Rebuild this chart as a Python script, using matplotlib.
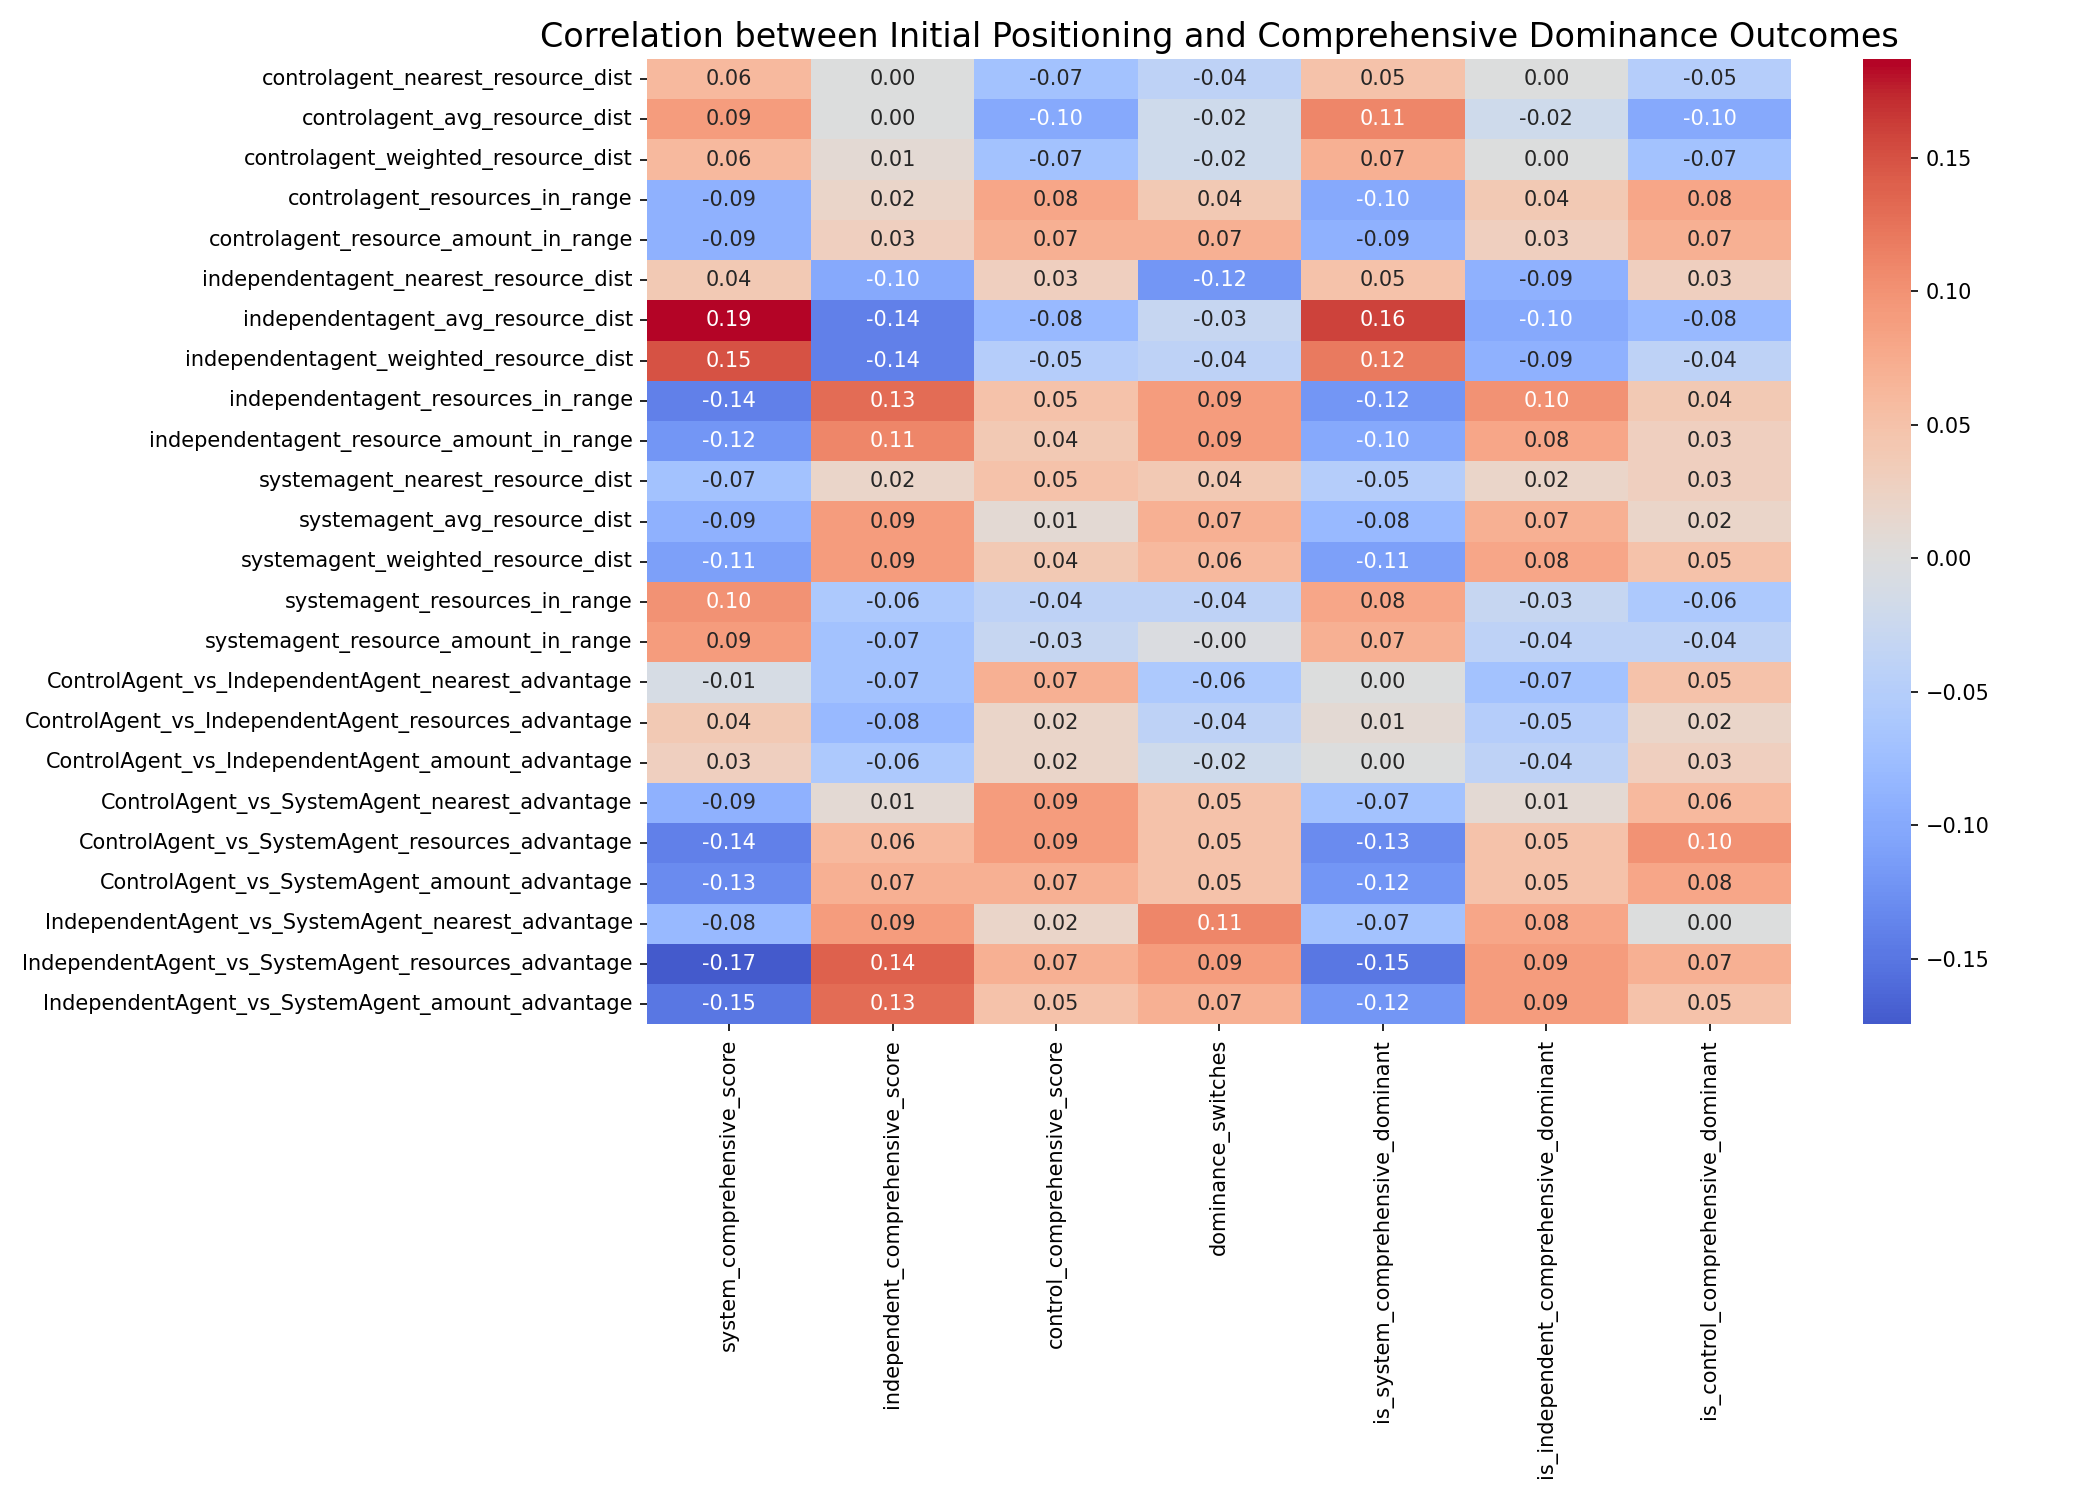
import numpy as np
import pandas as pd
import seaborn as sns
import matplotlib
from matplotlib import pyplot as plt

matplotlib.use("agg")

features = [
    "controlagent_nearest_resource_dist",
    "controlagent_avg_resource_dist",
    "controlagent_weighted_resource_dist",
    "controlagent_resources_in_range",
    "controlagent_resource_amount_in_range",
    "independentagent_nearest_resource_dist",
    "independentagent_avg_resource_dist",
    "independentagent_weighted_resource_dist",
    "independentagent_resources_in_range",
    "independentagent_resource_amount_in_range",
    "systemagent_nearest_resource_dist",
    "systemagent_avg_resource_dist",
    "systemagent_weighted_resource_dist",
    "systemagent_resources_in_range",
    "systemagent_resource_amount_in_range",
    "ControlAgent_vs_IndependentAgent_nearest_advantage",
    "ControlAgent_vs_IndependentAgent_resources_advantage",
    "ControlAgent_vs_IndependentAgent_amount_advantage",
    "ControlAgent_vs_SystemAgent_nearest_advantage",
    "ControlAgent_vs_SystemAgent_resources_advantage",
    "ControlAgent_vs_SystemAgent_amount_advantage",
    "IndependentAgent_vs_SystemAgent_nearest_advantage",
    "IndependentAgent_vs_SystemAgent_resources_advantage",
    "IndependentAgent_vs_SystemAgent_amount_advantage",
]

outcomes = [
    "system_comprehensive_score",
    "independent_comprehensive_score",
    "control_comprehensive_score",
    "dominance_switches",
    "is_system_comprehensive_dominant",
    "is_independent_comprehensive_dominant",
    "is_control_comprehensive_dominant",
]

system_score = [0.06, 0.09, 0.06, -0.09, -0.09, 0.04, 0.187, 0.15, -0.14, -0.12, -0.07, -0.09,
                -0.11, 0.10, 0.09, -0.01, 0.04, 0.03, -0.09, -0.14, -0.13, -0.08, -0.1745, -0.15]
independent_score = [0.00, 0.00, 0.01, 0.02, 0.03, -0.10, -0.14, -0.14, 0.13, 0.11, 0.02, 0.09,
                     0.09, -0.06, -0.07, -0.07, -0.08, -0.06, 0.01, 0.06, 0.07, 0.09, 0.14, 0.13]
control_score = [-0.07, -0.10, -0.07, 0.08, 0.07, 0.03, -0.08, -0.05, 0.05, 0.04, 0.05, 0.01,
                 0.04, -0.04, -0.03, 0.07, 0.02, 0.02, 0.09, 0.09, 0.07, 0.02, 0.07, 0.05]
switches = [-0.04, -0.02, -0.02, 0.04, 0.07, -0.12, -0.03, -0.04, 0.09, 0.09, 0.04, 0.07,
            0.06, -0.04, -0.003, -0.06, -0.04, -0.02, 0.05, 0.05, 0.05, 0.11, 0.09, 0.07]
is_system = [0.05, 0.11, 0.07, -0.10, -0.09, 0.05, 0.16, 0.12, -0.12, -0.10, -0.05, -0.08,
             -0.11, 0.08, 0.07, 0.00, 0.01, 0.00, -0.07, -0.13, -0.12, -0.07, -0.15, -0.12]
is_independent = [0.00, -0.02, 0.00, 0.04, 0.03, -0.09, -0.10, -0.09, 0.10, 0.08, 0.02, 0.07,
                  0.08, -0.03, -0.04, -0.07, -0.05, -0.04, 0.01, 0.05, 0.05, 0.08, 0.09, 0.09]
is_control = [-0.05, -0.10, -0.07, 0.08, 0.07, 0.03, -0.08, -0.04, 0.04, 0.03, 0.03, 0.02,
              0.05, -0.06, -0.04, 0.05, 0.02, 0.03, 0.06, 0.10, 0.08, 0.00, 0.07, 0.05]

corr = pd.DataFrame(
    np.column_stack([system_score, independent_score, control_score, switches,
                     is_system, is_independent, is_control]),
    index=features, columns=outcomes)

plt.figure(figsize=(14, 10))
sns.heatmap(corr, annot=True, cmap="coolwarm", center=0, fmt=".2f")
plt.title("Correlation between Initial Positioning and Comprehensive Dominance Outcomes", fontsize=16)
plt.tight_layout()
plt.savefig("out.png", dpi=150)
